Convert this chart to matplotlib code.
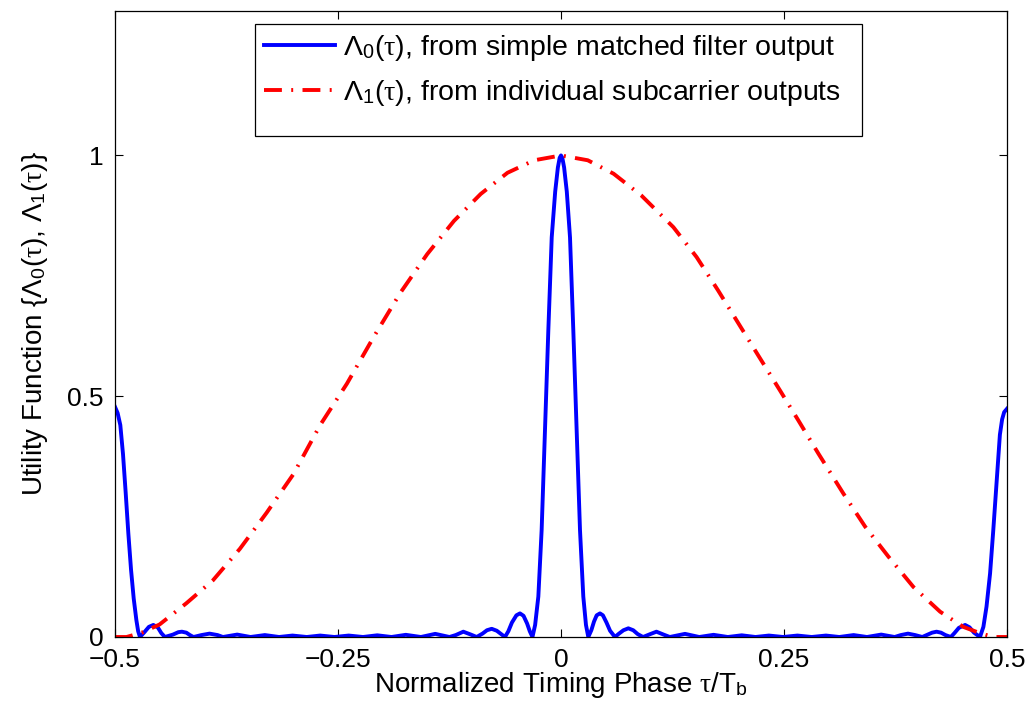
import matplotlib
matplotlib.use("Agg")
import matplotlib.pyplot as plt
from matplotlib.patches import Rectangle

plt.rcParams['font.family'] = ['Liberation Sans', 'DejaVu Sans']
plt.rcParams['mathtext.fontset'] = 'custom'
plt.rcParams['mathtext.rm'] = 'Liberation Sans'
plt.rcParams['mathtext.it'] = 'Liberation Serif'
plt.rcParams['mathtext.bf'] = 'Liberation Sans:bold'

# Lambda_0(tau): simple matched filter output
blue_x = [-0.500, -0.497, -0.494, -0.491, -0.488, -0.485, -0.482, -0.479, -0.476, -0.474, -0.472,
          -0.467, -0.462, -0.457, -0.452, -0.448, -0.444,
          -0.435, -0.429, -0.425, -0.420, -0.416, -0.412,
          -0.403, -0.394, -0.385, -0.379,
          -0.363, -0.348, -0.332, -0.316, -0.301, -0.285, -0.270, -0.254,
          -0.238, -0.222, -0.206, -0.190, -0.174, -0.157, -0.141, -0.125,
          -0.118, -0.1095, -0.101, -0.0945,
          -0.088, -0.083, -0.0777, -0.072, -0.067, -0.0628,
          -0.059, -0.055, -0.050, -0.046, -0.042, -0.038, -0.035, -0.032,
          -0.029, -0.0254, -0.0217, -0.018, -0.0142, -0.0104, -0.0065, -0.0035, -0.0015, 0.0,
          0.0015, 0.0035, 0.0065, 0.0101, 0.0138, 0.0176, 0.0213, 0.025, 0.028, 0.0306,
          0.034, 0.037, 0.040, 0.0437, 0.047, 0.051, 0.055, 0.0605,
          0.065, 0.070, 0.0755, 0.081, 0.086, 0.092,
          0.100, 0.107, 0.115, 0.122,
          0.139, 0.155, 0.171, 0.187, 0.2026, 0.218, 0.233, 0.249,
          0.265, 0.281, 0.297, 0.312, 0.328, 0.343, 0.359, 0.374,
          0.381, 0.389, 0.397, 0.405,
          0.411, 0.416, 0.421, 0.426, 0.431, 0.437,
          0.441, 0.446, 0.453, 0.458, 0.463, 0.4697,
          0.4735, 0.477, 0.481, 0.4846, 0.4885, 0.492, 0.4945, 0.4968, 0.500]
blue_y = [0.478, 0.465, 0.440, 0.380, 0.300, 0.215, 0.140, 0.080, 0.035, 0.012, 0.000,
          0.010, 0.021, 0.025, 0.020, 0.008, 0.000,
          0.005, 0.010, 0.011, 0.009, 0.004, 0.000,
          0.004, 0.007, 0.004, 0.000,
          0.005, 0.000, 0.004, 0.000, 0.003, 0.000, 0.003, 0.000,
          0.003, 0.000, 0.0035, 0.000, 0.0045, 0.000, 0.0065, 0.000,
          0.004, 0.011, 0.005, 0.000,
          0.007, 0.014, 0.017, 0.013, 0.006, 0.000,
          0.012, 0.030, 0.045, 0.049, 0.044, 0.028, 0.012, 0.000,
          0.025, 0.084, 0.222, 0.430, 0.637, 0.830, 0.925, 0.975, 0.995, 1.000,
          0.995, 0.975, 0.925, 0.830, 0.637, 0.430, 0.222, 0.084, 0.025, 0.000,
          0.014, 0.032, 0.045, 0.049, 0.045, 0.030, 0.013, 0.000,
          0.007, 0.014, 0.018, 0.014, 0.006, 0.000,
          0.006, 0.011, 0.005, 0.000,
          0.0065, 0.000, 0.0045, 0.000, 0.0035, 0.000, 0.003, 0.000,
          0.003, 0.000, 0.003, 0.000, 0.004, 0.000, 0.005, 0.000,
          0.004, 0.007, 0.004, 0.000,
          0.005, 0.009, 0.011, 0.009, 0.004, 0.000,
          0.008, 0.019, 0.025, 0.020, 0.009, 0.000,
          0.021, 0.063, 0.132, 0.222, 0.326, 0.420, 0.452, 0.467, 0.474]

# Lambda_1(tau): individual subcarrier outputs
red_x = [-0.500, -0.487, -0.470, -0.450, -0.420, -0.390, -0.360, -0.330, -0.300, -0.270,
         -0.240, -0.210, -0.180, -0.150, -0.120, -0.090, -0.060, -0.030, 0.000,
         0.030, 0.059, 0.090, 0.126, 0.152, 0.176, 0.199, 0.221, 0.2455, 0.266,
         0.2885, 0.3165, 0.341, 0.367, 0.395, 0.425, 0.451, 0.4697, 0.4846, 0.500]
red_y = [0.000, 0.000, 0.009, 0.026, 0.070, 0.118, 0.183, 0.258, 0.338, 0.440,
         0.526, 0.623, 0.715, 0.795, 0.864, 0.920, 0.964, 0.990, 1.000,
         0.990, 0.962, 0.917, 0.851, 0.789, 0.720, 0.651, 0.585, 0.512, 0.450,
         0.381, 0.298, 0.229, 0.167, 0.104, 0.0525, 0.021, 0.008, 0.000, 0.000]

x_ticks = [-0.5, -0.25, 0, 0.25, 0.5]
x_ticklabels = ['\u22120.5', '\u22120.25', '0', '0.25', '0.5']
y_ticks = [0, 0.5, 1]
y_ticklabels = ['0', '0.5', '1']

fig = plt.figure(figsize=(10.32, 7.13), dpi=100)
ax = fig.add_axes([0.1114, 0.1066, 0.8644, 0.878])

ax.plot(blue_x, blue_y, color=(0, 0, 1), lw=2.8, solid_joinstyle='round',
        label=r'$\mathit{\Lambda}_0(\mathit{\tau})$, from simple matched filter output')
ax.plot(red_x, red_y, color=(1, 0, 0), lw=2.8, dashes=(4.6, 2.4, 0.5, 2.4),
        label=r'$\mathit{\Lambda}_1(\mathit{\tau})$, from individual subcarrier outputs')

ax.set_xlim(-0.5, 0.5)
ax.set_ylim(0, 1.3)
ax.set_xticks(x_ticks)
ax.set_xticklabels(x_ticklabels)
ax.set_yticks(y_ticks)
ax.set_yticklabels(y_ticklabels)
ax.tick_params(direction='in', top=True, right=True, length=5.8, width=0.8,
               labelsize=19, pad=8)
for s in ax.spines.values():
    s.set_linewidth(0.9)

ax.set_xlabel(r'Normalized Timing Phase $\mathit{\tau}$/T$_\mathrm{b}$', fontsize=20)
ax.xaxis.set_label_coords(0.5, -0.052)
ax.set_ylabel(r'Utility Function {$\mathit{\Lambda}_0(\mathit{\tau})$, $\mathit{\Lambda}_1(\mathit{\tau})$}',
              fontsize=20)
ax.yaxis.set_label_coords(-0.073, 0.5)

# legend box drawn by hand (MATLAB style, extra space at the bottom)
ax.add_patch(Rectangle((0.157, 0.80), 0.68, 0.179, transform=ax.transAxes,
                       facecolor='white', edgecolor='black', lw=0.9, zorder=4))
ax.legend(loc='upper left', bbox_to_anchor=(0.157, 0.979), frameon=False,
          fontsize=20.5, handlelength=2.5, handletextpad=0.3, labelspacing=0.55,
          borderpad=0.3, borderaxespad=0)

fig.savefig('out.png', dpi=100)
